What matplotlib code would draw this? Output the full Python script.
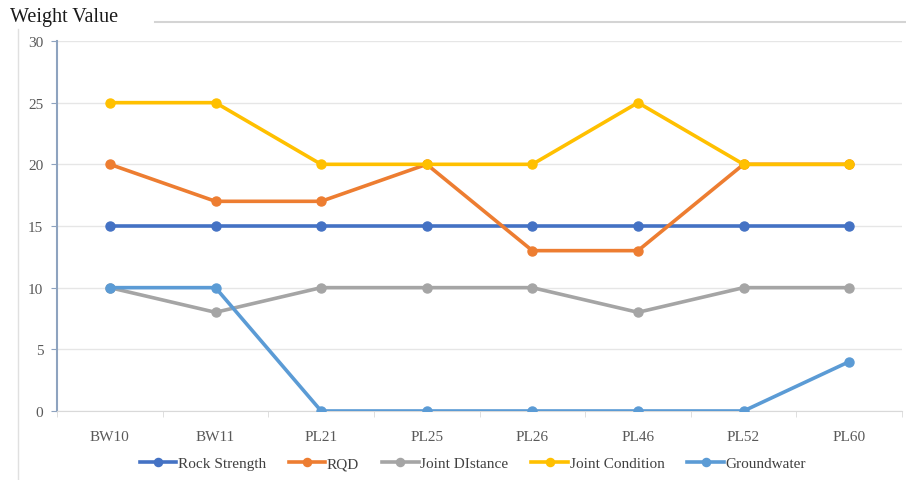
import numpy as np
from matplotlib import pyplot as plt
from matplotlib.lines import Line2D

sites = ["BW10", "BW11", "PL21", "PL25", "PL26", "PL46", "PL52", "PL60"]
rock_strength = [15, 15, 15, 15, 15, 15, 15, 15]
rqd = [20, 17, 17, 20, 13, 13, 20, 20]
joint_distance = [10, 8, 10, 10, 10, 8, 10, 10]
joint_condition = [25, 25, 20, 20, 20, 25, 20, 20]
groundwater = [10, 10, 0, 0, 0, 0, 0, 4]

series = [
    ("Rock Strength", rock_strength, "#4472C4"),
    ("RQD", rqd, "#ED7D31"),
    ("Joint DIstance", joint_distance, "#A5A5A5"),
    ("Joint Condition", joint_condition, "#FFC000"),
    ("Groundwater", groundwater, "#5B9BD5"),
]

plt.rcParams['font.family'] = ['Liberation Serif', 'DejaVu Serif']

fig = plt.figure(figsize=(9.06, 4.81), dpi=100)
ax = fig.add_axes([0.063, 0.1435, 0.9326, 0.7692])

x = np.arange(len(sites))
for name, vals, col in series:
    ax.plot(x, vals, color=col, lw=2.6, marker="o", ms=6.5, label=name, zorder=3)

ax.set_xlim(-0.5, len(sites) - 0.5)
ax.set_ylim(0, 30)
ax.set_yticks([0, 5, 10, 15, 20, 25, 30])
ax.set_xticks(x)
ax.set_xticklabels(sites)
ax.set_xticks(np.arange(-0.5, len(sites), 1), minor=True)
ax.tick_params(axis="x", which="major", length=0, pad=14, labelsize=11, labelcolor="#595959")
ax.tick_params(axis="x", which="minor", length=4, color="#D9D9D9", direction="out")
ax.tick_params(axis="y", length=4, color="#8EA3BF", labelsize=11, labelcolor="#595959", pad=6)
ax.grid(axis="y", color="#E6E6E6", lw=1)
ax.set_axisbelow(True)
for s in ["top", "right"]:
    ax.spines[s].set_visible(False)
ax.spines["left"].set_color("#8EA3BF")
ax.spines["left"].set_linewidth(1.5)
ax.spines["bottom"].set_color("#D9D9D9")

leg = ax.legend(loc="center", bbox_to_anchor=(0.492, -0.142), ncol=5, frameon=False,
                fontsize=11, handlelength=2.4, handletextpad=0.1, columnspacing=1.5,
                markerscale=0.9, borderaxespad=0, borderpad=0)
for t in leg.get_texts():
    t.set_color("#404040")

fig.text(0.011, 0.963, "Weight Value", fontsize=14.5, color="#1a1a1a", va="center")
fig.add_artist(Line2D([155 / 906, 1.0], [1 - 23 / 481, 1 - 23 / 481], color="#D4D4D4", lw=1.5))
fig.add_artist(Line2D([18 / 906, 18 / 906], [0, 1 - 30 / 481], color="#E0E0E0", lw=1))

fig.savefig("out.png", dpi=100)
